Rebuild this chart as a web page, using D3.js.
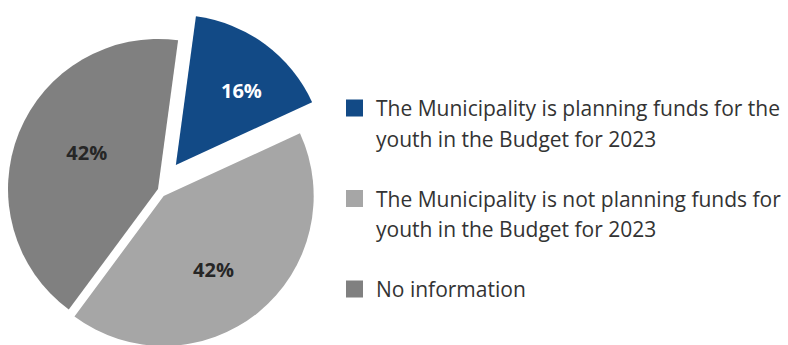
<!DOCTYPE html>
<html>
<head>
<meta charset="utf-8">
<script src="https://cdn.jsdelivr.net/npm/d3@7"></script>
<style>
  html, body { margin: 0; padding: 0; background: #ffffff; }
  svg { display: block; font-family: "Open Sans", "Noto Sans", sans-serif; }
</style>
</head>
<body>
<svg id="chart" width="788" height="345"></svg>
<script>
// Budget planning for youth, share of municipalities
const categories = [
  "The Municipality is planning funds for the youth in the Budget for 2023",
  "The Municipality is not planning funds for youth in the Budget for 2023",
  "No information"
];
const legendLines = [
  ["The Municipality is planning funds for the", "youth in the Budget for 2023"],
  ["The Municipality is not planning funds for", "youth in the Budget for 2023"],
  ["No information"]
];
const values = [16, 42, 42];
const colors = ["#124a86", "#a6a6a6", "#808080"];
const labelColors = ["#ffffff", "#262626", "#262626"];

// layout / style
const cx = 158, cy = 189, radius = 150;
const startDeg = 7.7;
const explode = [30, 9, 0];          // pull-out distance of each slice
const labelRadius = [99, 89, 80];    // distance of each value label from its slice tip
const labelNudgeDeg = 5;

const svg = d3.select("#chart");
const toRad = d => d * Math.PI / 180;

const pie = d3.pie()
  .sort(null)
  .value(d => d)
  .startAngle(toRad(startDeg))
  .endAngle(toRad(startDeg) + 2 * Math.PI);

const arc = d3.arc().innerRadius(0).outerRadius(radius);
const arcs = pie(values);

const slices = svg.append("g")
  .attr("transform", `translate(${cx},${cy})`)
  .selectAll("g.slice")
  .data(arcs)
  .join("g")
  .attr("class", "slice")
  .attr("transform", (d, i) => {
    const mid = (d.startAngle + d.endAngle) / 2;
    return `translate(${explode[i] * Math.sin(mid)},${-explode[i] * Math.cos(mid)})`;
  });

slices.append("path")
  .attr("d", arc)
  .attr("fill", (d, i) => colors[i]);

slices.append("text")
  .attr("x", (d, i) => {
    const a = (d.startAngle + d.endAngle) / 2 + toRad(labelNudgeDeg);
    return labelRadius[i] * Math.sin(a);
  })
  .attr("y", (d, i) => {
    const a = (d.startAngle + d.endAngle) / 2 + toRad(labelNudgeDeg);
    return -labelRadius[i] * Math.cos(a) + 7;
  })
  .attr("text-anchor", "middle")
  .attr("font-size", 20)
  .attr("font-weight", 700)
  .attr("fill", (d, i) => labelColors[i])
  .text(d => d.value + "%");

// legend
const legendX = 346, legendTop = 116, itemGap = 90.5, lineGap = 30.5, box = 17;
const legend = svg.append("g")
  .selectAll("g.item")
  .data(categories)
  .join("g")
  .attr("class", "item")
  .attr("transform", (d, i) => `translate(${legendX},${legendTop + i * itemGap})`);

legend.append("rect")
  .attr("x", 0)
  .attr("y", -8 - box / 2)
  .attr("width", box)
  .attr("height", box)
  .attr("fill", (d, i) => colors[i]);

legend.append("text")
  .attr("x", 30)
  .attr("y", 0)
  .attr("font-size", 21)
  .attr("fill", "#333333")
  .selectAll("tspan")
  .data((d, i) => legendLines[i])
  .join("tspan")
  .attr("x", 30)
  .attr("dy", (d, j) => j === 0 ? 0 : lineGap)
  .text(d => d);
</script>
</body>
</html>
